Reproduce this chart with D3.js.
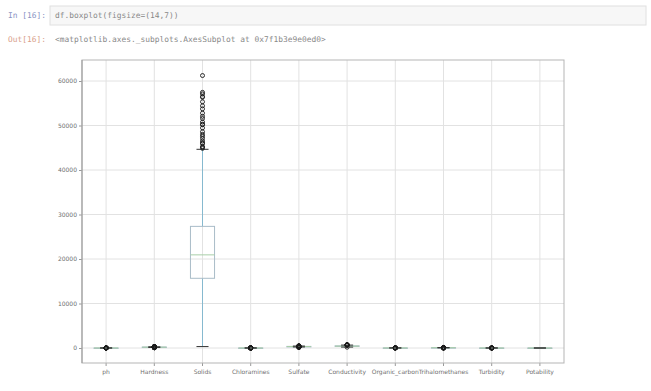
<!DOCTYPE html>
<html>
<head>
<meta charset="utf-8">
<script src="https://cdn.jsdelivr.net/npm/d3@7"></script>
<style>
  body { margin: 0; background: #fff; }
  svg { display: block; }
  .tick text { font-family: "DejaVu Sans", sans-serif; font-size: 6px; fill: #6f6f6f; }
  .code { font-family: "DejaVu Sans Mono", monospace; font-size: 7.9px; }
</style>
</head>
<body>
<svg id="chart"></svg>
<script>
// columns of the dataframe
const columns = ['ph', 'Hardness', 'Solids', 'Chloramines', 'Sulfate', 'Conductivity',
    'Organic_carbon', 'Trihalomethanes', 'Turbidity', 'Potability'];

// box statistics per column
const q1 = [6.09, 176.85, 15666.7, 6.13, 307.7, 365.7, 12.07, 55.84, 3.44, 0];
const medians = [7.04, 196.97, 20927.8, 7.13, 333.1, 421.9, 14.22, 66.62, 3.96, 0];
const q3 = [8.06, 216.67, 27332.8, 8.11, 359.9, 481.8, 16.56, 77.34, 4.50, 1];
const whiskerLow = [3.19, 117.8, 320.9, 3.15, 229.3, 201.6, 5.36, 23.6, 1.87, 0];
const whiskerHigh = [11.01, 275.9, 44652, 11.09, 438.3, 655.9, 23.23, 109.6, 6.08, 1];

// fliers per column
const outliers = [
    [0, 0.23, 1.43, 1.76, 2.13, 2.38, 2.54, 2.80, 2.97, 3.10, 11.1, 11.3, 11.6, 11.9, 12.2, 12.5, 12.9, 13.2, 13.5, 14],
    [47.4, 73.5, 77.5, 81.7, 94.1, 98.4, 103.5, 105.9, 110.0, 113.8, 277.1, 280.5, 287.0, 292.6, 298.1, 304.2, 306.6, 311.4, 317.3, 323.1],
    [44868, 45141, 45243, 45939, 46077, 46512, 47091, 47580, 48002, 48595, 49456, 50166, 50279, 50793,
     51574, 52060, 52780, 53735, 54420, 55334, 56351, 56488, 57100, 57450, 61227],
    [0.35, 0.53, 1.39, 1.68, 1.92, 2.27, 2.46, 2.58, 2.86, 3.06, 11.13, 11.24, 11.46, 11.68, 11.9, 12.21, 12.58, 12.92, 13.13],
    [129, 180.2, 187.2, 192.0, 203.4, 207.9, 214.1, 219.6, 225.5, 440.3, 446.6, 455.5, 460.1, 468.5, 481.0],
    [181.5, 657.6, 666.7, 674.2, 685.1, 695.4, 708.2, 714.0, 753.3],
    [2.2, 4.37, 4.47, 4.9, 5.19, 23.4, 23.9, 24.8, 25.6, 27.0, 28.3],
    [0.74, 8.18, 8.58, 14.3, 15.7, 17.5, 19.5, 21.7, 110.4, 114.0, 116.2, 118.4, 120.0, 124.0],
    [1.45, 1.49, 1.64, 1.81, 6.1, 6.25, 6.39, 6.49, 6.63, 6.74],
    []
];

const yTicks = [0, 10000, 20000, 30000, 40000, 50000, 60000];

const width = 651, height = 391;
const margin = { top: 60, right: 87, bottom: 28, left: 82 };

const svg = d3.select('#chart').attr('width', width).attr('height', height);

// notebook cell header
svg.append('rect')
    .attr('x', 50).attr('y', 6).attr('width', 596).attr('height', 19)
    .attr('fill', '#f7f7f7').attr('stroke', '#e0e0e0');
svg.append('text').attr('class', 'code')
    .attr('x', 8).attr('y', 18).attr('fill', '#8a93c4').text('In [16]:');
svg.append('text').attr('class', 'code')
    .attr('x', 55).attr('y', 18).attr('fill', '#888').text('df.boxplot(figsize=(14,7))');
svg.append('text').attr('class', 'code')
    .attr('x', 8).attr('y', 42).attr('fill', '#d9a08a').text('Out[16]:');
svg.append('text').attr('class', 'code')
    .attr('x', 55).attr('y', 42).attr('fill', '#888')
    .text('<matplotlib.axes._subplots.AxesSubplot at 0x7f1b3e9e0ed0>');

const x = d3.scaleBand()
    .domain(columns)
    .range([margin.left, width - margin.right]);

const y = d3.scaleLinear()
    .domain([-3370, 64720])
    .range([height - margin.bottom, margin.top]);

const cx = c => x(c) + x.bandwidth() / 2;
const boxW = x.bandwidth() * 0.5;
const capW = boxW * 0.5;

// grid
const g = svg.append('g');
g.selectAll('.hgrid').data(yTicks).enter().append('line')
    .attr('x1', margin.left).attr('x2', width - margin.right)
    .attr('y1', d => y(d)).attr('y2', d => y(d))
    .attr('stroke', '#e2e2e2').attr('stroke-width', 1);
g.selectAll('.vgrid').data(columns).enter().append('line')
    .attr('x1', d => cx(d)).attr('x2', d => cx(d))
    .attr('y1', margin.top).attr('y2', height - margin.bottom)
    .attr('stroke', '#e2e2e2').attr('stroke-width', 1);

// axes
const yAxis = svg.append('g')
    .attr('transform', `translate(${margin.left},0)`)
    .call(d3.axisLeft(y).tickValues(yTicks).tickFormat(d3.format('d')).tickSize(3).tickPadding(2));
const xAxis = svg.append('g')
    .attr('transform', `translate(0,${height - margin.bottom})`)
    .call(d3.axisBottom(x).tickSize(3).tickPadding(4));
[yAxis, xAxis].forEach(a => {
    a.select('.domain').remove();
    a.selectAll('.tick line').attr('stroke', '#999');
});

// frame
svg.append('rect')
    .attr('x', margin.left).attr('y', margin.top)
    .attr('width', width - margin.left - margin.right)
    .attr('height', height - margin.top - margin.bottom)
    .attr('fill', 'none').attr('stroke', '#b5b5b5').attr('stroke-width', 1);
svg.append('line')
    .attr('x1', margin.left).attr('x2', margin.left)
    .attr('y1', margin.top).attr('y2', height - margin.bottom)
    .attr('stroke', '#999');

// boxes
const boxes = svg.append('g').selectAll('g').data(columns).enter().append('g');

boxes.append('line')
    .attr('x1', d => cx(d)).attr('x2', d => cx(d))
    .attr('y1', (d, i) => y(whiskerLow[i])).attr('y2', (d, i) => y(q1[i]))
    .attr('stroke', '#86b9cf').attr('stroke-width', 1);
boxes.append('line')
    .attr('x1', d => cx(d)).attr('x2', d => cx(d))
    .attr('y1', (d, i) => y(q3[i])).attr('y2', (d, i) => y(whiskerHigh[i]))
    .attr('stroke', '#86b9cf').attr('stroke-width', 1);
boxes.append('rect')
    .attr('x', d => cx(d) - boxW / 2).attr('width', boxW)
    .attr('y', (d, i) => y(q3[i]))
    .attr('height', (d, i) => Math.max(0.5, y(q1[i]) - y(q3[i])))
    .attr('fill', 'none').attr('stroke', '#a9bcc8').attr('stroke-width', 1);
boxes.append('line')
    .attr('x1', d => cx(d) - boxW / 2).attr('x2', d => cx(d) + boxW / 2)
    .attr('y1', (d, i) => y(medians[i])).attr('y2', (d, i) => y(medians[i]))
    .attr('stroke', '#a8cfa8').attr('stroke-width', 1);
['low', 'high'].forEach(k => {
    boxes.append('line')
        .attr('x1', d => cx(d) - capW / 2).attr('x2', d => cx(d) + capW / 2)
        .attr('y1', (d, i) => y(k === 'low' ? whiskerLow[i] : whiskerHigh[i]))
        .attr('y2', (d, i) => y(k === 'low' ? whiskerLow[i] : whiskerHigh[i]))
        .attr('stroke', '#333').attr('stroke-width', 1);
});

// fliers
boxes.each(function (d, i) {
    d3.select(this).selectAll('circle').data(outliers[i]).enter().append('circle')
        .attr('cx', cx(d)).attr('cy', v => y(v)).attr('r', 2)
        .attr('fill', 'none').attr('stroke', '#1a1a1a').attr('stroke-width', 0.9);
});
</script>
</body>
</html>
